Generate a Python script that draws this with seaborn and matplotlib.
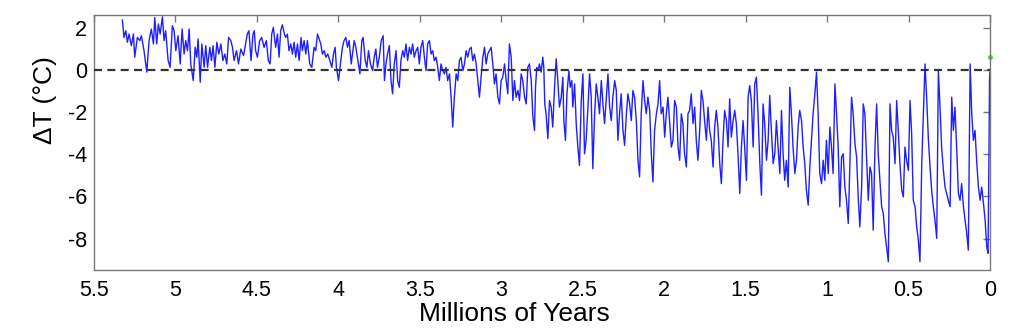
import numpy as np
import pandas as pd
import seaborn as sns
import matplotlib
matplotlib.use('Agg')
import matplotlib.pyplot as plt

# temperature anomaly (deg C) vs age (Myr)
age = [
    5.326, 5.316, 5.305, 5.295, 5.285, 5.271, 5.258, 5.250, 5.234, 5.219, 5.209, 5.193, 5.176,
    5.162, 5.148, 5.135, 5.127, 5.115, 5.105, 5.094, 5.080, 5.070, 5.060, 5.045, 5.033, 5.019,
    5.008, 4.998, 4.984, 4.971, 4.959, 4.947, 4.937, 4.926, 4.916, 4.906, 4.891, 4.879, 4.869,
    4.861, 4.848, 4.838, 4.824, 4.814, 4.803, 4.789, 4.779, 4.769, 4.758, 4.746, 4.734, 4.721,
    4.709, 4.697, 4.685, 4.674, 4.660, 4.650, 4.640, 4.625, 4.613, 4.599, 4.582,
    4.559, 4.549, 4.536, 4.524, 4.516, 4.508, 4.497, 4.483, 4.471, 4.456, 4.442, 4.430, 4.419,
    4.409, 4.399, 4.385, 4.374, 4.364, 4.354, 4.344, 4.331, 4.323, 4.313, 4.303, 4.292, 4.282,
    4.272, 4.262, 4.251, 4.241, 4.229, 4.221, 4.210, 4.200, 4.190, 4.176, 4.163, 4.149, 4.139,
    4.128, 4.118, 4.108, 4.098, 4.087, 4.077, 4.065, 4.053, 4.040, 4.030, 4.020, 4.012, 3.999,
    3.985, 3.975, 3.965, 3.954, 3.944, 3.934, 3.921, 3.913, 3.903, 3.893, 3.880, 3.868, 3.856,
    3.848, 3.835, 3.825, 3.815, 3.803, 3.790, 3.780, 3.770, 3.760, 3.749, 3.737, 3.725, 3.717,
    3.708, 3.698,
    3.687, 3.677, 3.667, 3.657, 3.646, 3.636, 3.626, 3.616, 3.605, 3.595, 3.585, 3.575, 3.564,
    3.554, 3.544, 3.534, 3.523, 3.513, 3.503, 3.493, 3.482, 3.472, 3.462, 3.452, 3.441, 3.431,
    3.421, 3.411, 3.400, 3.390, 3.380, 3.370, 3.359, 3.349, 3.339, 3.329, 3.318, 3.308, 3.298,
    3.288, 3.277, 3.267, 3.257, 3.247, 3.236, 3.226, 3.216, 3.206, 3.195, 3.185, 3.175, 3.165,
    3.154, 3.144, 3.134, 3.124, 3.113, 3.103, 3.093, 3.083, 3.073, 3.062, 3.052, 3.042, 3.032,
    3.021, 3.011, 3.001, 2.991, 2.980, 2.970, 2.960, 2.950, 2.939, 2.929, 2.919, 2.909, 2.898,
    2.888, 2.878, 2.868, 2.857, 2.847, 2.837, 2.827, 2.816, 2.806, 2.796,
    2.790, 2.782, 2.774, 2.766, 2.755, 2.745, 2.739, 2.733, 2.725, 2.714, 2.704, 2.694, 2.684,
    2.673, 2.663, 2.653, 2.643, 2.632, 2.622, 2.616, 2.606, 2.597, 2.585, 2.577, 2.567, 2.561,
    2.550, 2.540, 2.530, 2.520, 2.509, 2.499, 2.489, 2.479, 2.468, 2.458, 2.448, 2.438, 2.427,
    2.417, 2.407, 2.397, 2.386, 2.376, 2.366, 2.356, 2.345, 2.335, 2.325, 2.315, 2.304, 2.294,
    2.284, 2.274, 2.264, 2.253, 2.243, 2.233, 2.223, 2.212, 2.202, 2.192, 2.182, 2.171, 2.161,
    2.151, 2.141, 2.130, 2.120, 2.110, 2.100, 2.089, 2.079, 2.069, 2.059, 2.048, 2.038, 2.028,
    2.018, 2.007, 1.997, 1.987, 1.977, 1.966, 1.956, 1.946, 1.936, 1.925, 1.915, 1.905,
    1.895, 1.885, 1.875, 1.864, 1.854, 1.844, 1.834, 1.823, 1.813, 1.803, 1.793, 1.782, 1.772,
    1.762, 1.752, 1.741, 1.731, 1.721, 1.711, 1.700, 1.690, 1.680, 1.670, 1.659, 1.649, 1.639,
    1.629, 1.618, 1.608, 1.598, 1.588, 1.577, 1.567, 1.557, 1.547, 1.536, 1.526, 1.516, 1.506,
    1.495, 1.485, 1.475, 1.465, 1.454, 1.444, 1.434, 1.424, 1.413, 1.403, 1.393, 1.383, 1.372,
    1.362, 1.352, 1.342, 1.331, 1.321, 1.311, 1.301, 1.290, 1.280, 1.270, 1.260, 1.250, 1.239,
    1.229, 1.219, 1.209, 1.198, 1.188, 1.178, 1.168, 1.157, 1.147, 1.137, 1.127, 1.116, 1.106,
    1.096, 1.086, 1.075, 1.065, 1.055, 1.045, 1.034, 1.024, 1.014, 1.004, 0.993, 0.983, 0.973,
    0.963, 0.952, 0.942, 0.932, 0.922, 0.911, 0.901, 0.891, 0.881, 0.870, 0.860, 0.850, 0.840,
    0.829, 0.819, 0.809, 0.799, 0.788, 0.778, 0.768, 0.758, 0.747, 0.737, 0.727, 0.717, 0.706,
    0.696, 0.686, 0.676, 0.665, 0.655, 0.645, 0.635, 0.624, 0.614, 0.604, 0.594, 0.583, 0.573,
    0.563, 0.553, 0.542, 0.532, 0.522, 0.512, 0.501, 0.491, 0.481, 0.471, 0.460, 0.450, 0.440,
    0.430, 0.419, 0.409, 0.399, 0.389, 0.378, 0.368, 0.358, 0.348, 0.338, 0.327, 0.317, 0.307,
    0.297, 0.286, 0.276, 0.266, 0.256, 0.245, 0.235, 0.225, 0.215, 0.204, 0.194, 0.184, 0.174,
    0.163, 0.153, 0.143, 0.133, 0.122, 0.112, 0.102, 0.092, 0.081, 0.071, 0.061, 0.051, 0.040,
    0.030, 0.020, 0.012, 0.006, 0.003, 0.001,
]
dT = [
    2.39, 1.56, 1.88, 1.33, 1.72, 1.17, 1.72, 0.62, 1.56, 1.41, 1.64, 0.93, -0.09,
    1.41, 1.96, 1.25, 2.51, 1.25, 2.20, 1.72, 2.54, 1.41, 1.88, 0.46, 0.14, 2.12,
    1.88, 0.93, 1.64, 0.30, 1.96, 0.77, 1.41, 0.93, 1.96, 0.30, -0.49, 1.09, 0.62,
    1.49, -0.57, 1.25, 0.14, 1.17, 0.14, 1.09, 0.46, 1.17, 0.14, 1.33, 0.77, 1.25,
    0.46, 0.77, 0.30, 1.56, 1.41, 1.09, 0.46, 0.93, 0.30, 1.01, 0.70,
    1.72, 1.88, 0.46, 1.72, 1.88, 0.93, 0.62, 1.41, 1.56, 1.09, 1.41, 0.46, 0.30,
    1.72, 2.04, 1.09, 1.72, 0.62, 1.88, 2.16, 1.72, 1.56, 1.72, 0.93, 1.25, 0.77,
    1.33, 0.62, 1.25, 0.46, 1.56, 0.93, 1.41, 0.77, 1.41, 0.30, 0.14, 1.09, 0.93,
    1.72, 1.49, 1.25, 0.77, 0.93, 0.62, 0.77, 0.46, 0.14, 0.77, 1.09, 0.14, -0.49,
    0.46, 1.09, 1.41, 1.56, 1.09, 1.41, 0.30, 0.77, 1.41, 1.09, 0.46, -0.17, 1.41,
    1.56, 0.46, 0.14, 0.93, 0.30, -0.02, 0.62, 1.01, 0.14, 0.62, 1.41, 1.64, -0.49,
    0.30, 0.77,
    1.17, -0.49, -1.12, 0.30, 0.93, -0.49, -0.81, 0.46, 0.93, 0.62, 1.25, 0.46, 1.09,
    0.77, 1.25, 0.62, 0.93, 1.09, 0.30, 1.09, 1.41, 0.62, -0.02, 1.25, 1.41, 0.77,
    0.93, 0.46, 0.62, 0.14, -0.49, 0.30, -0.02, -0.17, 0.14, -0.49, -0.17, -1.28, -2.70,
    -1.28, -0.17, -0.49, 0.46, 0.62, -0.02, 0.30, 0.93, 0.62, 1.01, 1.09, 0.46, 0.77,
    0.30, -0.49, -1.28, -0.33, 0.62, 1.09, 0.30, 0.77, 0.93, 1.09, 0.30, -0.65, -0.17,
    -1.28, -1.60, -0.49, -0.33, 0.30, -0.49, -1.12, 1.25, 0.62, -1.44, -0.49, -1.28, -0.96,
    -1.44, -0.17, -0.49, -1.28, -1.60, 0.14, 0.30, -0.49, -2.23, -2.86,
    -0.81, 0.14, -0.02, 0.30, -0.09, 0.62, 0.14, -1.60, -2.07, -3.25, -1.44, -1.75, -2.70,
    -0.81, 0.54, -0.49, -1.75, -1.28, -0.33, -2.39, -3.33, -1.12, -0.02, -0.81, -0.49, -1.75,
    -0.65, -2.54, -3.65, -4.52, -1.44, -0.17, -3.97, -3.33, -1.75, -0.17, -1.28, -4.68, -2.07,
    -0.65, -1.28, -2.07, -0.49, -1.60, -2.54, -1.44, -0.17, -1.75, -2.39, -1.28, -0.49, -0.96,
    -3.33, -2.07, -1.12, -2.86, -3.57, -2.23, -1.12, -1.60, -2.39, -0.96, -1.28, -2.39, -4.28,
    -5.07, -2.07, -0.49, -1.44, -2.07, -1.28, -1.91, -3.97, -5.31, -2.86, -2.07, -1.60, -0.49,
    -2.07, -1.75, -3.18, -2.07, -1.28, -2.54, -3.65, -3.33, -1.44, -1.75, -3.65, -4.28,
    -2.07, -2.54, -3.97, -4.60, -2.07, -1.91, -1.12, -2.54, -1.75, -3.33, -4.28, -2.86, -0.96,
    -1.44, -2.39, -3.33, -1.75, -2.86, -3.33, -4.60, -2.70, -1.91, -2.70, -4.44, -5.39, -3.33,
    -1.91, -2.39, -3.65, -1.36, -3.18, -2.39, -1.91, -2.54, -3.97, -5.86, -3.65, -2.39, -3.65,
    -5.23, -1.28, -0.73, -1.44, -3.65, -0.65, -0.33, -2.07, -4.44, -5.94, -1.60, -2.54, -4.28,
    -3.33, -1.20, -2.86, -4.44, -3.97, -2.39, -3.65, -4.91, -1.91, -3.97, -5.23, -4.28, -5.55,
    -0.81, -2.07, -3.65, -4.91, -4.28, -2.70, -1.91, -2.39, -3.65, -4.44, -5.70, -6.41, -4.60,
    -3.33, -2.07, -1.12, -0.09, -2.07, -4.91, -5.39, -4.28, -5.23, -3.33, -4.91, -2.70, -3.65,
    -4.91, -0.65, -2.07, -3.65, -6.49, -4.12, -3.97, -5.55, -6.18, -7.28, -4.44, -1.28, -2.07,
    -3.49, -4.12, -6.02, -7.44, -5.55, -1.60, -2.07, -4.12, -6.18, -4.60, -4.91, -7.60, -3.65,
    -1.60, -3.97, -5.23, -6.49, -6.81, -7.76, -8.39, -9.10, -1.60, -2.86, -3.18, -4.44, -1.44,
    -2.86, -4.44, -5.70, -6.02, -3.65, -4.28, -4.76, -1.44, -3.02, -6.18, -6.49, -7.44, -8.07,
    -9.10, -4.44, -2.07, 0.30, -1.28, -3.33, -4.60, -5.70, -6.49, -7.12, -7.99, -0.02, -1.75,
    -3.65, -4.76, -5.55, -5.86, -6.18, -6.49, -1.28, -2.86, -1.75, -3.81, -5.86, -6.18, -5.39,
    -6.49, -7.12, -7.76, -8.55, 0.30, -2.07, -3.33, -2.86, -4.44, -5.55, -6.18, -5.55, -6.34,
    -7.12, -8.39, -8.70, -3.65, -0.49, -0.10,
]

xticks = [5.5, 5, 4.5, 4, 3.5, 3, 2.5, 2, 1.5, 1, 0.5, 0]
xticklabels = ['5.5', '5', '4.5', '4', '3.5', '3', '2.5', '2', '1.5', '1', '0.5', '0']
yticks = [-8, -6, -4, -2, 0, 2]
yticklabels = ['-8', '-6', '-4', '-2', '0', '2']

# present-day marker (green dot at the right edge)
now_age = [0.0]
now_dT = [0.65]

df = pd.DataFrame({'age': age, 'dT': dT})

sns.set_style('white')
plt.rcParams['font.family'] = ['Liberation Sans', 'DejaVu Sans']

fig = plt.figure(figsize=(10.24, 3.29), dpi=100)
ax = fig.add_axes([0.0918, 0.179, 0.8750, 0.775])

sns.lineplot(data=df, x='age', y='dT', color='#1f1fff', lw=1.0, estimator=None, ax=ax)
ax.axhline(0, color='#333333', lw=1.6, ls=(0, (3.6, 2.4)), zorder=3)
ax.plot(now_age, now_dT, marker='o', ms=2.5, color='#33dd33', ls='none', clip_on=False)

ax.set_xlim(5.5, 0)
ax.set_ylim(-9.5, 2.62)
ax.set_xticks(xticks, labels=xticklabels)
ax.set_yticks(yticks, labels=yticklabels)
ax.tick_params(direction='in', top=True, right=True, length=5, width=1,
               color='#7a7a7a', labelsize=15.5, labelcolor='black')
ax.tick_params(axis='x', pad=7)
ax.tick_params(axis='y', pad=5)
for sp in ax.spines.values():
    sp.set_color('#7a7a7a')
    sp.set_linewidth(1)

ax.set_xlabel('Millions of Years', fontsize=19, color='black')
ax.set_ylabel('ΔT (°C)', fontsize=19, color='black')
ax.xaxis.set_label_coords(0.469, -0.125)
ax.yaxis.set_label_coords(-0.041, 0.667)

fig.savefig('out.png', dpi=100)
